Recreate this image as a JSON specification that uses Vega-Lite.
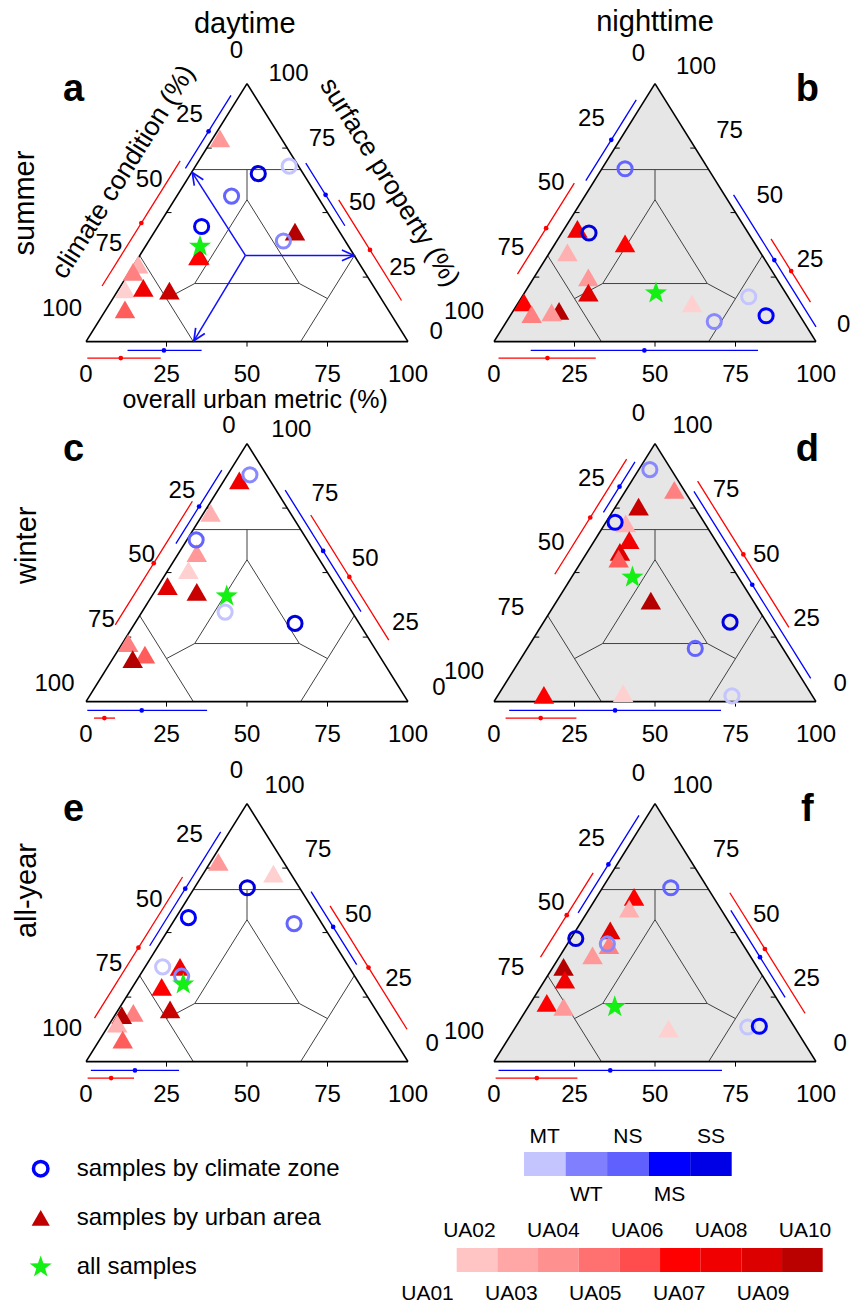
{
"$schema":"https://vega.github.io/schema/vega-lite/v6.json",
"padding":0,
"background":"white",
"spacing":0,
"config":{"view":{"stroke":null},"axis":{"disable":true},"font":"Liberation Sans","text":{"font":"Liberation Sans","color":"#000000"},
 "header":{"labels":false,"labelPadding":0,"titlePadding":0}},
"vconcat":[
{
"data":{"values":[
{"k":"bg","p":["b","d","f"],"x":0,"y":0},
{"k":"bg","p":["b","d","f"],"x":50,"y":100},
{"k":"bg","p":["b","d","f"],"x":100,"y":0},
{"k":"fr","p":["a","b","c","d","e","f"],"x":0,"y":0,"x2":100,"y2":0},
{"k":"fr","p":["a","b","c","d","e","f"],"x":0,"y":0,"x2":50,"y2":100},
{"k":"fr","p":["a","b","c","d","e","f"],"x":100,"y":0,"x2":50,"y2":100},
{"k":"gr","p":["a","b","c","d","e","f"],"x":33.33,"y":66.67,"x2":66.67,"y2":66.67},
{"k":"gr","p":["a","b","c","d","e","f"],"x":16.67,"y":33.33,"x2":33.33,"y2":0},
{"k":"gr","p":["a","b","c","d","e","f"],"x":66.67,"y":0,"x2":83.33,"y2":33.33},
{"k":"gr","p":["a","b","c","d","e","f"],"x":50,"y":55,"x2":33.75,"y2":22.5},
{"k":"gr","p":["a","b","c","d","e","f"],"x":33.75,"y":22.5,"x2":66.25,"y2":22.5},
{"k":"gr","p":["a","b","c","d","e","f"],"x":66.25,"y":22.5,"x2":50,"y2":55},
{"k":"gr","p":["a","b","c","d","e","f"],"x":50,"y":55,"x2":50,"y2":66.67},
{"k":"gr","p":["a","b","c","d","e","f"],"x":33.75,"y":22.5,"x2":25,"y2":16.67},
{"k":"gr","p":["a","b","c","d","e","f"],"x":66.25,"y":22.5,"x2":75,"y2":16.67},
{"k":"tk","p":["a","b","c","d","e","f"],"e":"b","x":25,"y":0},
{"k":"tk","p":["a","b","c","d","e","f"],"e":"b","x":50,"y":0},
{"k":"tk","p":["a","b","c","d","e","f"],"e":"b","x":75,"y":0},
{"k":"tk","p":["a","b","c","d","e","f"],"e":"l","x":37.5,"y":75},
{"k":"tk","p":["a","b","c","d","e","f"],"e":"l","x":25,"y":50},
{"k":"tk","p":["a","b","c","d","e","f"],"e":"l","x":12.5,"y":25},
{"k":"tk","p":["a","b","c","d","e","f"],"e":"r","x":87.5,"y":25},
{"k":"tk","p":["a","b","c","d","e","f"],"e":"r","x":75,"y":50},
{"k":"tk","p":["a","b","c","d","e","f"],"e":"r","x":62.5,"y":75},
{"k":"lb","p":["a","b","c","d","e","f"],"e":"b","t":"0","x":0,"y":0},
{"k":"lb","p":["a","b","c","d","e","f"],"e":"b","t":"25","x":25,"y":0},
{"k":"lb","p":["a","b","c","d","e","f"],"e":"b","t":"50","x":50,"y":0},
{"k":"lb","p":["a","b","c","d","e","f"],"e":"b","t":"75","x":75,"y":0},
{"k":"lb","p":["a","b","c","d","e","f"],"e":"b","t":"100","x":100,"y":0},
{"k":"lb","p":["a","b","c","d","e","f"],"e":"l","t":"0","x":50,"y":100},
{"k":"lb","p":["a","b","c","d","e","f"],"e":"l","t":"25","x":37.5,"y":75},
{"k":"lb","p":["a","b","c","d","e","f"],"e":"l","t":"50","x":25,"y":50},
{"k":"lb","p":["a","b","c","d","e","f"],"e":"l","t":"75","x":12.5,"y":25},
{"k":"lb","p":["a","b","c","d","e","f"],"e":"l","t":"100","x":0,"y":0},
{"k":"lb","p":["a","b","c","d","e","f"],"e":"r","t":"0","x":100,"y":0},
{"k":"lb","p":["a","b","c","d","e","f"],"e":"r","t":"25","x":87.5,"y":25},
{"k":"lb","p":["a","b","c","d","e","f"],"e":"r","t":"50","x":75,"y":50},
{"k":"lb","p":["a","b","c","d","e","f"],"e":"r","t":"75","x":62.5,"y":75},
{"k":"lb","p":["a","b","c","d","e","f"],"e":"r","t":"100","x":50,"y":100},
{"k":"ar","p":["a"],"d":"C","x":49.5,"y":33.4,"x2":33,"y2":65.5},
{"k":"ar","p":["a"],"d":"S","x":49.5,"y":33.4,"x2":83.2,"y2":33.4},
{"k":"ar","p":["a"],"d":"U","x":49.5,"y":33.4,"x2":33.5,"y2":0.3},
{"k":"eb","p":["a"],"e":"l","g":"b","x":32.8,"y":65.6,"x2":46.95,"y2":93.9,"xm":40,"ym":80},
{"k":"eb","p":["a"],"e":"l","g":"r","x":9.15,"y":18.3,"x2":33.4,"y2":66.8,"xm":21.35,"ym":42.7},
{"k":"eb","p":["a"],"e":"r","g":"b","x":78.35,"y":43.3,"x2":66.2,"y2":67.6,"xm":72.35,"ym":55.3},
{"k":"eb","p":["a"],"e":"r","g":"r","x":93.7,"y":12.6,"x2":74.2,"y2":51.6,"xm":83.9,"ym":32.2},
{"k":"eb","p":["a"],"e":"b","g":"b","x":12.9,"y":0,"x2":35.9,"y2":0,"xm":24.2,"ym":0},
{"k":"eb","p":["a"],"e":"b","g":"r","x":0.4,"y":0,"x2":23.2,"y2":0,"xm":10.8,"ym":0},
{"k":"eb","p":["b"],"e":"l","g":"b","x":30.45,"y":60.9,"x2":46.1,"y2":92.2,"xm":38.35,"ym":76.7},
{"k":"eb","p":["b"],"e":"l","g":"r","x":11.45,"y":22.9,"x2":29.1,"y2":58.2,"xm":20.35,"ym":40.7},
{"k":"eb","p":["b"],"e":"r","g":"b","x":97.95,"y":4.1,"x2":72.35,"y2":55.3,"xm":85,"ym":30},
{"k":"eb","p":["b"],"e":"r","g":"r","x":94,"y":12,"x2":81.75,"y2":36.5,"xm":88,"ym":24},
{"k":"eb","p":["b"],"e":"b","g":"b","x":11.4,"y":0,"x2":82,"y2":0,"xm":46.7,"ym":0},
{"k":"eb","p":["b"],"e":"b","g":"r","x":1.4,"y":0,"x2":31.6,"y2":0,"xm":16.6,"ym":0},
{"k":"eb","p":["c"],"e":"l","g":"b","x":29.85,"y":59.7,"x2":44.1,"y2":88.2,"xm":37.05,"ym":74.1},
{"k":"eb","p":["c"],"e":"l","g":"r","x":13.25,"y":26.5,"x2":37.2,"y2":74.4,"xm":25.2,"ym":50.4},
{"k":"eb","p":["c"],"e":"r","g":"b","x":83.35,"y":33.3,"x2":59.8,"y2":80.4,"xm":71.6,"ym":56.8},
{"k":"eb","p":["c"],"e":"r","g":"r","x":89.75,"y":20.5,"x2":65.5,"y2":69,"xm":77.5,"ym":45},
{"k":"eb","p":["c"],"e":"b","g":"b","x":0.4,"y":0,"x2":37.6,"y2":0,"xm":17.3,"ym":0},
{"k":"eb","p":["c"],"e":"b","g":"r","x":2.5,"y":0,"x2":9,"y2":0,"xm":5.7,"ym":0},
{"k":"eb","p":["d"],"e":"l","g":"b","x":35.9,"y":71.8,"x2":45.7,"y2":91.4,"xm":40.9,"ym":81.8},
{"k":"eb","p":["d"],"e":"l","g":"r","x":23.05,"y":46.1,"x2":45.35,"y2":90.7,"xm":34.05,"ym":68.1},
{"k":"eb","p":["d"],"e":"r","g":"b","x":96.3,"y":7.4,"x2":60.05,"y2":79.9,"xm":78.15,"ym":43.7},
{"k":"eb","p":["d"],"e":"r","g":"r","x":87.3,"y":25.4,"x2":58.95,"y2":82.1,"xm":73.15,"ym":53.7},
{"k":"eb","p":["d"],"e":"b","g":"b","x":4.7,"y":0,"x2":70.5,"y2":0,"xm":37.6,"ym":0},
{"k":"eb","p":["d"],"e":"b","g":"r","x":3.6,"y":0,"x2":25.6,"y2":0,"xm":14.5,"ym":0},
{"k":"eb","p":["e"],"e":"l","g":"b","x":21.7,"y":43.4,"x2":43.75,"y2":87.5,"xm":32.75,"ym":65.5},
{"k":"eb","p":["e"],"e":"l","g":"r","x":6.8,"y":13.6,"x2":34.15,"y2":68.3,"xm":20.45,"ym":40.9},
{"k":"eb","p":["e"],"e":"r","g":"b","x":82,"y":36,"x2":67.85,"y2":64.3,"xm":74.7,"ym":50.6},
{"k":"eb","p":["e"],"e":"r","g":"r","x":95.4,"y":9.2,"x2":71.5,"y2":57,"xm":83.45,"ym":33.1},
{"k":"eb","p":["e"],"e":"b","g":"b","x":1.5,"y":0,"x2":28.9,"y2":0,"xm":15.2,"ym":0},
{"k":"eb","p":["e"],"e":"b","g":"r","x":0.5,"y":0,"x2":14.9,"y2":0,"xm":7.8,"ym":0},
{"k":"eb","p":["f"],"e":"l","g":"b","x":28.05,"y":56.1,"x2":46.95,"y2":93.9,"xm":37.45,"ym":74.9},
{"k":"eb","p":["f"],"e":"l","g":"r","x":18.6,"y":37.2,"x2":34.95,"y2":69.9,"xm":26.75,"ym":53.5},
{"k":"eb","p":["f"],"e":"r","g":"b","x":88.35,"y":23.3,"x2":71.5,"y2":57,"xm":80.55,"ym":38.9},
{"k":"eb","p":["f"],"e":"r","g":"r","x":92.3,"y":15.4,"x2":68.95,"y2":62.1,"xm":79.85,"ym":40.3},
{"k":"eb","p":["f"],"e":"b","g":"b","x":1.4,"y":0,"x2":70.8,"y2":0,"xm":36.1,"ym":0},
{"k":"eb","p":["f"],"e":"b","g":"r","x":0.5,"y":0,"x2":25.9,"y2":0,"xm":13.3,"ym":0},
{"k":"ua","p":["a"],"c":"UA03","x":41.6,"y":78.8},
{"k":"ua","p":["a"],"c":"UA10","x":64.9,"y":42.6},
{"k":"ua","p":["a"],"c":"UA08","x":35.2,"y":33.2},
{"k":"ua","p":["a"],"c":"UA06","x":34.9,"y":33.0},
{"k":"ua","p":["a"],"c":"UA02","x":16.2,"y":29.8},
{"k":"ua","p":["a"],"c":"UA04","x":14.6,"y":27.0},
{"k":"ua","p":["a"],"c":"UA01","x":12.1,"y":20.2},
{"k":"ua","p":["a"],"c":"UA07","x":17.8,"y":20.8},
{"k":"ua","p":["a"],"c":"UA09","x":25.9,"y":19.8},
{"k":"ua","p":["a"],"c":"UA05","x":12.1,"y":12.5},
{"k":"ua","p":["b"],"c":"UA10","x":20.2,"y":11.9},
{"k":"ua","p":["b"],"c":"UA07","x":25.9,"y":43.7},
{"k":"ua","p":["b"],"c":"UA06","x":40.7,"y":38.1},
{"k":"ua","p":["b"],"c":"UA02","x":22.8,"y":34.6},
{"k":"ua","p":["b"],"c":"UA03","x":29.3,"y":24.9},
{"k":"ua","p":["b"],"c":"UA08","x":29.3,"y":19.0},
{"k":"ua","p":["b"],"c":"UA06","x":9.3,"y":15.2},
{"k":"ua","p":["b"],"c":"UA04","x":11.7,"y":10.6},
{"k":"ua","p":["b"],"c":"UA03","x":17.9,"y":11.3},
{"k":"ua","p":["b"],"c":"UA01","x":61.5,"y":14.8},
{"k":"ua","p":["c"],"c":"UA07","x":47.6,"y":85.7},
{"k":"ua","p":["c"],"c":"UA02","x":38.7,"y":73.1},
{"k":"ua","p":["c"],"c":"UA03","x":34.4,"y":57.5},
{"k":"ua","p":["c"],"c":"UA01","x":31.8,"y":51.0},
{"k":"ua","p":["c"],"c":"UA08","x":25.3,"y":44.8},
{"k":"ua","p":["c"],"c":"UA09","x":34.4,"y":42.5},
{"k":"ua","p":["c"],"c":"UA04","x":13.1,"y":22.7},
{"k":"ua","p":["c"],"c":"UA05","x":18.3,"y":18.2},
{"k":"ua","p":["c"],"c":"UA10","x":14.5,"y":16.5},
{"k":"ua","p":["d"],"c":"UA04","x":56,"y":82.1},
{"k":"ua","p":["d"],"c":"UA09","x":44.9,"y":75.6},
{"k":"ua","p":["d"],"c":"UA02","x":40.9,"y":69.1},
{"k":"ua","p":["d"],"c":"UA07","x":42.0,"y":62.6},
{"k":"ua","p":["d"],"c":"UA08","x":39.1,"y":58.0},
{"k":"ua","p":["d"],"c":"UA05","x":38.7,"y":55.4},
{"k":"ua","p":["d"],"c":"UA10","x":48.7,"y":39.1},
{"k":"ua","p":["d"],"c":"UA06","x":15.5,"y":2.6},
{"k":"ua","p":["d"],"c":"UA01","x":40.1,"y":3.3},
{"k":"ua","p":["e"],"c":"UA03","x":41.1,"y":77.4},
{"k":"ua","p":["e"],"c":"UA01","x":58.2,"y":72.9},
{"k":"ua","p":["e"],"c":"UA07","x":29.2,"y":36.7},
{"k":"ua","p":["e"],"c":"UA06","x":23.5,"y":29.0},
{"k":"ua","p":["e"],"c":"UA09","x":26.1,"y":20.2},
{"k":"ua","p":["e"],"c":"UA04","x":14.7,"y":18.9},
{"k":"ua","p":["e"],"c":"UA10","x":11.1,"y":18.0},
{"k":"ua","p":["e"],"c":"UA02","x":9.7,"y":14.7},
{"k":"ua","p":["e"],"c":"UA05","x":11.4,"y":8.5},
{"k":"ua","p":["f"],"c":"UA06","x":43.5,"y":63.8},
{"k":"ua","p":["f"],"c":"UA02","x":42.0,"y":59.3},
{"k":"ua","p":["f"],"c":"UA08","x":36.1,"y":50.9},
{"k":"ua","p":["f"],"c":"UA04","x":35.7,"y":45.1},
{"k":"ua","p":["f"],"c":"UA03","x":30.6,"y":41.2},
{"k":"ua","p":["f"],"c":"UA10","x":21.6,"y":36.7},
{"k":"ua","p":["f"],"c":"UA07","x":22.0,"y":31.8},
{"k":"ua","p":["f"],"c":"UA06","x":16.4,"y":22.8},
{"k":"ua","p":["f"],"c":"UA03","x":21.6,"y":21.2},
{"k":"ua","p":["f"],"c":"UA01","x":54.2,"y":12.8},
{"k":"cz","p":["a"],"c":"SS","x":53.5,"y":65.1},
{"k":"cz","p":["a"],"c":"MT","x":63.1,"y":68.0},
{"k":"cz","p":["a"],"c":"NS","x":45.2,"y":56.4},
{"k":"cz","p":["a"],"c":"MS","x":35.9,"y":44.6},
{"k":"cz","p":["a"],"c":"WT","x":61.3,"y":39.0},
{"k":"cz","p":["b"],"c":"NS","x":40.7,"y":67.0},
{"k":"cz","p":["b"],"c":"SS","x":29.5,"y":42.1},
{"k":"cz","p":["b"],"c":"MT","x":79.1,"y":17.4},
{"k":"cz","p":["b"],"c":"WT","x":68.4,"y":7.8},
{"k":"cz","p":["b"],"c":"MS","x":84.5,"y":10.0},
{"k":"cz","p":["c"],"c":"WT","x":50.9,"y":87.9},
{"k":"cz","p":["c"],"c":"NS","x":34.2,"y":62.7},
{"k":"cz","p":["c"],"c":"MT","x":43.2,"y":34.7},
{"k":"cz","p":["c"],"c":"SS","x":64.9,"y":30.3},
{"k":"cz","p":["d"],"c":"WT","x":48.4,"y":89.9},
{"k":"cz","p":["d"],"c":"MS","x":37.6,"y":69.5},
{"k":"cz","p":["d"],"c":"SS","x":73.3,"y":30.8},
{"k":"cz","p":["d"],"c":"NS","x":62.5,"y":20.6},
{"k":"cz","p":["d"],"c":"MT","x":73.9,"y":2.2},
{"k":"cz","p":["e"],"c":"SS","x":50.1,"y":67.4},
{"k":"cz","p":["e"],"c":"MS","x":31.8,"y":55.8},
{"k":"cz","p":["e"],"c":"NS","x":64.6,"y":53.5},
{"k":"cz","p":["e"],"c":"MT","x":23.8,"y":36.7},
{"k":"cz","p":["e"],"c":"WT","x":29.7,"y":33.1},
{"k":"cz","p":["f"],"c":"NS","x":54.9,"y":67.4},
{"k":"cz","p":["f"],"c":"SS","x":25.4,"y":47.7},
{"k":"cz","p":["f"],"c":"WT","x":35.2,"y":45.6},
{"k":"cz","p":["f"],"c":"MT","x":78.8,"y":13.4},
{"k":"cz","p":["f"],"c":"MS","x":82.4,"y":13.7},
{"k":"all","p":["a"],"x":35.4,"y":36.9},
{"k":"all","p":["b"],"x":50.3,"y":18.8},
{"k":"all","p":["c"],"x":43.7,"y":40.9},
{"k":"all","p":["d"],"x":43.0,"y":48.2},
{"k":"all","p":["e"],"x":30.2,"y":30.0},
{"k":"all","p":["f"],"x":37.5,"y":21.2}
]},
"transform":[
 {"flatten":["p"]},
 {"lookup":"p","from":{"data":{"values":[{"p":"a","r":1,"cc":1},{"p":"b","r":1,"cc":2},{"p":"c","r":2,"cc":1},{"p":"d","r":2,"cc":2},{"p":"e","r":3,"cc":1},{"p":"f","r":3,"cc":2}]},"key":"p","fields":["r","cc"]}}
],
"facet":{
 "row":{"field":"r","type":"ordinal","header":{"labels":false,"title":null}},
 "column":{"field":"cc","type":"ordinal","header":{"labels":false,"title":null}}
},
"spacing":0,
"bounds":"flush",
"spec":{
"width":407.3,
"height":359.5,
"encoding":{
"x":{"field":"x","type":"quantitative","scale":{"domain":[-26.71,99.78],"nice":false,"zero":false}},
"y":{"field":"y","type":"quantitative","scale":{"domain":[-6.94,132.4],"nice":false,"zero":false}}
},
"layer":[
{"transform":[{"filter":"datum.k=='bg'"}],"mark":{"type":"area","color":"#e6e6e6"},"encoding":{"y2":{"datum":0}}},
{"transform":[{"filter":"datum.k=='gr'"}],"mark":{"type":"rule","color":"#404040","strokeWidth":1},"encoding":{"x2":{"field":"x2"},"y2":{"field":"y2"}}},
{"transform":[{"filter":"datum.k=='fr'"}],"mark":{"type":"rule","color":"#000000","strokeWidth":1.6},"encoding":{"x2":{"field":"x2"},"y2":{"field":"y2"}}},
{"transform":[{"filter":"datum.k=='ar'"}],"mark":{"type":"rule","color":"#1010ff","strokeWidth":1.5},"encoding":{"x2":{"field":"x2"},"y2":{"field":"y2"}}},
{"transform":[{"filter":"datum.k=='ar' && datum.d=='S'"}],"mark":{"type":"point","shape":"M-0.45,1L0,0L0.45,1","size":576,"angle":90,"filled":false,"color":"#1010ff","strokeWidth":1.7,"opacity":1},"encoding":{"x":{"field":"x2","type":"quantitative"},"y":{"field":"y2","type":"quantitative"}}},
{"transform":[{"filter":"datum.k=='ar' && datum.d=='U'"}],"mark":{"type":"point","shape":"M-0.45,1L0,0L0.45,1","size":576,"angle":212,"filled":false,"color":"#1010ff","strokeWidth":1.7,"opacity":1},"encoding":{"x":{"field":"x2","type":"quantitative"},"y":{"field":"y2","type":"quantitative"}}},
{"transform":[{"filter":"datum.k=='ar' && datum.d=='C'"}],"mark":{"type":"point","shape":"M-0.45,1L0,0L0.45,1","size":576,"angle":327,"filled":false,"color":"#1010ff","strokeWidth":1.7,"opacity":1},"encoding":{"x":{"field":"x2","type":"quantitative"},"y":{"field":"y2","type":"quantitative"}}},
{"transform":[{"filter":"datum.k=='tk' && datum.e=='b'"}],"mark":{"type":"point","shape":"M0,0L0,1","size":100,"filled":false,"color":"#000000","strokeWidth":1,"opacity":1}},
{"transform":[{"filter":"datum.k=='tk' && datum.e=='l'"}],"mark":{"type":"point","shape":"M0,0L1,0","size":100,"filled":false,"color":"#000000","strokeWidth":1,"opacity":1}},
{"transform":[{"filter":"datum.k=='tk' && datum.e=='r'"}],"mark":{"type":"point","shape":"M0,0L-1,0","size":100,"filled":false,"color":"#000000","strokeWidth":1,"opacity":1}},
{"transform":[{"filter":"datum.k=='eb' && datum.e=='l' && datum.g=='b'"}],"layer":[
 {"mark":{"type":"rule","color":"#0000ff","strokeWidth":1.3,"xOffset":-6.2,"yOffset":-3.9,"x2Offset":-6.2,"y2Offset":-3.9},"encoding":{"x2":{"field":"x2"},"y2":{"field":"y2"}}},
 {"mark":{"type":"point","filled":true,"color":"#0000ff","size":22,"opacity":1,"xOffset":-6.2,"yOffset":-3.9},"encoding":{"x":{"field":"xm","type":"quantitative"},"y":{"field":"ym","type":"quantitative"}}}]},
{"transform":[{"filter":"datum.k=='eb' && datum.e=='l' && datum.g=='r'"}],"layer":[
 {"mark":{"type":"rule","color":"#ff0000","strokeWidth":1.3,"xOffset":-13.4,"yOffset":-8.4,"x2Offset":-13.4,"y2Offset":-8.4},"encoding":{"x2":{"field":"x2"},"y2":{"field":"y2"}}},
 {"mark":{"type":"point","filled":true,"color":"#ff0000","size":22,"opacity":1,"xOffset":-13.4,"yOffset":-8.4},"encoding":{"x":{"field":"xm","type":"quantitative"},"y":{"field":"ym","type":"quantitative"}}}]},
{"transform":[{"filter":"datum.k=='eb' && datum.e=='r' && datum.g=='b'"}],"layer":[
 {"mark":{"type":"rule","color":"#0000ff","strokeWidth":1.3,"xOffset":6.6,"yOffset":-4.1,"x2Offset":6.6,"y2Offset":-4.1},"encoding":{"x2":{"field":"x2"},"y2":{"field":"y2"}}},
 {"mark":{"type":"point","filled":true,"color":"#0000ff","size":22,"opacity":1,"xOffset":6.6,"yOffset":-4.1},"encoding":{"x":{"field":"xm","type":"quantitative"},"y":{"field":"ym","type":"quantitative"}}}]},
{"transform":[{"filter":"datum.k=='eb' && datum.e=='r' && datum.g=='r'"}],"layer":[
 {"mark":{"type":"rule","color":"#ff0000","strokeWidth":1.3,"xOffset":13.8,"yOffset":-8.6,"x2Offset":13.8,"y2Offset":-8.6},"encoding":{"x2":{"field":"x2"},"y2":{"field":"y2"}}},
 {"mark":{"type":"point","filled":true,"color":"#ff0000","size":22,"opacity":1,"xOffset":13.8,"yOffset":-8.6},"encoding":{"x":{"field":"xm","type":"quantitative"},"y":{"field":"ym","type":"quantitative"}}}]},
{"transform":[{"filter":"datum.k=='eb' && datum.e=='b' && datum.g=='b'"}],"layer":[
 {"mark":{"type":"rule","color":"#0000ff","strokeWidth":1.3,"yOffset":8.8,"y2Offset":8.8},"encoding":{"x2":{"field":"x2"},"y2":{"field":"y2"}}},
 {"mark":{"type":"point","filled":true,"color":"#0000ff","size":22,"opacity":1,"yOffset":8.8},"encoding":{"x":{"field":"xm","type":"quantitative"},"y":{"field":"ym","type":"quantitative"}}}]},
{"transform":[{"filter":"datum.k=='eb' && datum.e=='b' && datum.g=='r'"}],"layer":[
 {"mark":{"type":"rule","color":"#ff0000","strokeWidth":1.3,"yOffset":16.5,"y2Offset":16.5},"encoding":{"x2":{"field":"x2"},"y2":{"field":"y2"}}},
 {"mark":{"type":"point","filled":true,"color":"#ff0000","size":22,"opacity":1,"yOffset":16.5},"encoding":{"x":{"field":"xm","type":"quantitative"},"y":{"field":"ym","type":"quantitative"}}}]},
{"transform":[{"filter":"datum.k=='ua'"}],"mark":{"type":"point","shape":"triangle-up","filled":true,"size":420,"opacity":1,"strokeWidth":0},"encoding":{"fill":{"field":"c","type":"nominal","scale":{"domain":["UA01","UA02","UA03","UA04","UA05","UA06","UA07","UA08","UA09","UA10"],"range":["#ffd0d0","#ffb0b0","#ff9898","#ff8080","#ff5c5c","#ff0000","#f00000","#e00000","#c80000","#b40000"]},"legend":null}}},
{"transform":[{"filter":"datum.k=='cz'"}],"mark":{"type":"point","shape":"circle","filled":false,"size":200,"strokeWidth":3,"opacity":1},"encoding":{"stroke":{"field":"c","type":"nominal","scale":{"domain":["MT","WT","NS","MS","SS"],"range":["#c4c4ff","#8888ff","#6464ff","#0000ff","#0000dd"]},"legend":null}}},
{"transform":[{"filter":"datum.k=='all'"}],"mark":{"type":"point","shape":"M0,-1L0.235,-0.324L0.951,-0.309L0.38,0.124L0.588,0.809L0,0.4L-0.588,0.809L-0.38,0.124L-0.951,-0.309L-0.235,-0.324Z","filled":true,"color":"#14f014","size":540,"opacity":1,"strokeWidth":0}},
{"transform":[{"filter":"datum.k=='lb' && datum.e=='b'"}],"mark":{"type":"text","fontSize":24,"align":"center","baseline":"middle","dy":33.5},"encoding":{"text":{"field":"t"}}},
{"transform":[{"filter":"datum.k=='lb' && datum.e=='l' && (datum.p=='a' || datum.p=='e')"}],"mark":{"type":"text","fontSize":24,"align":"right","baseline":"middle","dx":-4,"dy":-33},"encoding":{"text":{"field":"t"}}},
{"transform":[{"filter":"datum.k=='lb' && datum.e=='l' && (datum.p=='b' || datum.p=='d' || datum.p=='f')"}],"mark":{"type":"text","fontSize":24,"align":"right","baseline":"middle","dx":-10,"dy":-29.5},"encoding":{"text":{"field":"t"}}},
{"transform":[{"filter":"datum.k=='lb' && datum.e=='l' && datum.p=='c'"}],"mark":{"type":"text","fontSize":24,"align":"right","baseline":"middle","dx":-11.5,"dy":-17.5},"encoding":{"text":{"field":"t"}}},
{"transform":[{"filter":"datum.k=='lb' && datum.e=='r' && datum.p=='a'"}],"mark":{"type":"text","fontSize":24,"align":"left","baseline":"middle","dx":21.5,"dy":-9.5},"encoding":{"text":{"field":"t"}}},
{"transform":[{"filter":"datum.k=='lb' && datum.e=='r' && datum.p=='b'"}],"mark":{"type":"text","fontSize":24,"align":"left","baseline":"middle","dx":21,"dy":-16.8},"encoding":{"text":{"field":"t"}}},
{"transform":[{"filter":"datum.k=='lb' && datum.e=='r' && datum.p=='c'"}],"mark":{"type":"text","fontSize":24,"align":"left","baseline":"middle","dx":24.3,"dy":-14},"encoding":{"text":{"field":"t"}}},
{"transform":[{"filter":"datum.k=='lb' && datum.e=='r' && (datum.p=='d' || datum.p=='e' || datum.p=='f')"}],"mark":{"type":"text","fontSize":24,"align":"left","baseline":"middle","dx":17.5,"dy":-17.7},"encoding":{"text":{"field":"t"}}},
{"transform":[{"filter":"datum.k=='fr' && datum.y2==0 && (datum.p=='a' || datum.p=='c' || datum.p=='e')"}],"mark":{"type":"text","fontSize":38,"fontWeight":"bold","align":"center","baseline":"alphabetic"},"encoding":{"x":{"datum":-3.9},"y":{"datum":93.2},"text":{"field":"p"}}},
{"transform":[{"filter":"datum.k=='fr' && datum.y2==0 && (datum.p=='b' || datum.p=='d' || datum.p=='f')"}],"mark":{"type":"text","fontSize":38,"fontWeight":"bold","align":"center","baseline":"alphabetic"},"encoding":{"x":{"datum":97.3},"y":{"datum":93.2},"text":{"field":"p"}}},
{"transform":[{"filter":"datum.k=='fr' && datum.y2==0 && datum.p=='a'"}],"mark":{"type":"text","fontSize":29,"align":"center","baseline":"alphabetic"},"encoding":{"x":{"datum":49.3},"y":{"datum":119.7},"text":{"value":"daytime"}}},
{"transform":[{"filter":"datum.k=='fr' && datum.y2==0 && datum.p=='b'"}],"mark":{"type":"text","fontSize":29,"align":"center","baseline":"alphabetic"},"encoding":{"x":{"datum":50},"y":{"datum":120.2},"text":{"value":"nighttime"}}},
{"transform":[{"filter":"datum.k=='fr' && datum.y2==0 && datum.p=='a'"}],"mark":{"type":"text","fontSize":29,"angle":270,"align":"center","baseline":"middle"},"encoding":{"x":{"datum":-18.9},"y":{"datum":53.7},"text":{"value":"summer"}}},
{"transform":[{"filter":"datum.k=='fr' && datum.y2==0 && datum.p=='c'"}],"mark":{"type":"text","fontSize":29,"angle":270,"align":"center","baseline":"middle"},"encoding":{"x":{"datum":-18.4},"y":{"datum":60.6},"text":{"value":"winter"}}},
{"transform":[{"filter":"datum.k=='fr' && datum.y2==0 && datum.p=='e'"}],"mark":{"type":"text","fontSize":29,"angle":270,"align":"center","baseline":"middle"},"encoding":{"x":{"datum":-18.4},"y":{"datum":66.3},"text":{"value":"all-year"}}},
{"transform":[{"filter":"datum.k=='fr' && datum.y2==0 && datum.p=='a'"}],"mark":{"type":"text","fontSize":26.5,"angle":302,"align":"center","baseline":"middle"},"encoding":{"x":{"datum":11.6},"y":{"datum":65.7},"text":{"value":"climate condition (%)"}}},
{"transform":[{"filter":"datum.k=='fr' && datum.y2==0 && datum.p=='a'"}],"mark":{"type":"text","fontSize":26.5,"angle":58,"align":"center","baseline":"middle"},"encoding":{"x":{"datum":94.3},"y":{"datum":61.7},"text":{"value":"surface property (%)"}}},
{"transform":[{"filter":"datum.k=='fr' && datum.y2==0 && datum.p=='a'"}],"mark":{"type":"text","fontSize":25,"align":"center","baseline":"middle"},"encoding":{"x":{"datum":52.5},"y":{"datum":-22.8},"text":{"value":"overall urban metric (%)"}}}
]
}
},
{
"width":851,
"height":196.4,
"resolve":{"scale":{"x":"independent","y":"independent","fill":"independent"}},
"layer":[
{"data":{"values":[{"i":"samples by climate zone"}]},"mark":{"type":"point","shape":"circle","filled":false,"color":"#0000ff","strokeWidth":3.5,"size":210,"opacity":1},
 "encoding":{"x":{"datum":"s","type":"nominal","scale":{"type":"point","domain":["s","t"],"range":[40.7,76.7],"padding":0}},"y":{"field":"i","type":"nominal","scale":{"type":"point","domain":["samples by climate zone","samples by urban area","all samples"],"range":[60.7,159.1],"padding":0}}}},
{"data":{"values":[{"i":"samples by urban area"}]},"mark":{"type":"point","shape":"triangle-up","filled":true,"color":"#c00000","size":330,"opacity":1},
 "encoding":{"x":{"datum":"s","type":"nominal","scale":{"type":"point","domain":["s","t"],"range":[40.7,76.7],"padding":0}},"y":{"field":"i","type":"nominal","scale":{"type":"point","domain":["samples by climate zone","samples by urban area","all samples"],"range":[60.7,159.1],"padding":0}}}},
{"data":{"values":[{"i":"all samples"}]},"mark":{"type":"point","shape":"M0,-1L0.235,-0.324L0.951,-0.309L0.38,0.124L0.588,0.809L0,0.4L-0.588,0.809L-0.38,0.124L-0.951,-0.309L-0.235,-0.324Z","filled":true,"color":"#14f014","size":540,"opacity":1,"strokeWidth":0},
 "encoding":{"x":{"datum":"s","type":"nominal","scale":{"type":"point","domain":["s","t"],"range":[40.7,76.7],"padding":0}},"y":{"field":"i","type":"nominal","scale":{"type":"point","domain":["samples by climate zone","samples by urban area","all samples"],"range":[60.7,159.1],"padding":0}}}},
{"data":{"values":[{"i":"samples by climate zone"},{"i":"samples by urban area"},{"i":"all samples"}]},"mark":{"type":"text","fontSize":24,"align":"left","baseline":"middle"},
 "encoding":{"x":{"datum":"t","type":"nominal","scale":{"type":"point","domain":["s","t"],"range":[40.7,76.7],"padding":0}},"y":{"field":"i","type":"nominal","scale":{"type":"point","domain":["samples by climate zone","samples by urban area","all samples"],"range":[60.7,159.1],"padding":0}},"text":{"field":"i"}}},
{"data":{"values":[{"z":"MT"},{"z":"WT"},{"z":"NS"},{"z":"MS"},{"z":"SS"}]},"mark":{"type":"rect"},
 "encoding":{"x":{"field":"z","type":"nominal","scale":{"type":"band","domain":["MT","WT","NS","MS","SS"],"range":[524,731.7],"paddingInner":0,"paddingOuter":0}},
  "y":{"datum":"blue","type":"nominal","scale":{"type":"band","domain":["blue","red"],"range":[44.1,164.1],"paddingInner":0.75,"paddingOuter":0}},
  "fill":{"field":"z","type":"nominal","scale":{"domain":["MT","WT","NS","MS","SS"],"range":["#c4c4ff","#8080ff","#6060ff","#0000ff","#0000e6"]},"legend":null}}},
{"data":{"values":[{"z":"MT"},{"z":"NS"},{"z":"SS"}]},"mark":{"type":"text","fontSize":21,"align":"center","baseline":"middle","dy":-27},
 "encoding":{"x":{"field":"z","type":"nominal","scale":{"type":"band","domain":["MT","WT","NS","MS","SS"],"range":[524,731.7],"paddingInner":0,"paddingOuter":0}},
  "y":{"datum":"blue","type":"nominal","scale":{"type":"band","domain":["blue","red"],"range":[44.1,164.1],"paddingInner":0.75,"paddingOuter":0}},"text":{"field":"z"}}},
{"data":{"values":[{"z":"WT"},{"z":"MS"}]},"mark":{"type":"text","fontSize":21,"align":"center","baseline":"middle","dy":31.3},
 "encoding":{"x":{"field":"z","type":"nominal","scale":{"type":"band","domain":["MT","WT","NS","MS","SS"],"range":[524,731.7],"paddingInner":0,"paddingOuter":0}},
  "y":{"datum":"blue","type":"nominal","scale":{"type":"band","domain":["blue","red"],"range":[44.1,164.1],"paddingInner":0.75,"paddingOuter":0}},"text":{"field":"z"}}},
{"data":{"values":[{"n":1},{"n":2},{"n":3},{"n":4},{"n":5},{"n":6},{"n":7},{"n":8},{"n":9}]},"mark":{"type":"rect"},
 "encoding":{"x":{"field":"n","type":"ordinal","scale":{"type":"band","domain":[1,2,3,4,5,6,7,8,9],"range":[456.7,822.7],"paddingInner":0,"paddingOuter":0}},
  "y":{"datum":"red","type":"nominal","scale":{"type":"band","domain":["blue","red"],"range":[44.1,164.1],"paddingInner":0.75,"paddingOuter":0}},
  "fill":{"field":"n","type":"ordinal","scale":{"domain":[1,2,3,4,5,6,7,8,9],"range":["#ffc4c4","#ffa6a6","#ff9090","#ff7070","#ff4c4c","#ff0000","#f00000","#dc0000","#bb0000"]},"legend":null}}},
{"data":{"values":[{"u":"UA02"},{"u":"UA04"},{"u":"UA06"},{"u":"UA08"},{"u":"UA10"}]},"mark":{"type":"text","fontSize":21,"align":"center","baseline":"middle","dy":-28.7},
 "encoding":{"x":{"field":"u","type":"ordinal","scale":{"type":"point","domain":["UA01","UA02","UA03","UA04","UA05","UA06","UA07","UA08","UA09","UA10"],"range":[427.5,805],"padding":0}},
  "y":{"datum":"red","type":"nominal","scale":{"type":"band","domain":["blue","red"],"range":[44.1,164.1],"paddingInner":0.75,"paddingOuter":0}},"text":{"field":"u"}}},
{"data":{"values":[{"u":"UA01"},{"u":"UA03"},{"u":"UA05"},{"u":"UA07"},{"u":"UA09"}]},"mark":{"type":"text","fontSize":21,"align":"center","baseline":"middle","dy":33.6},
 "encoding":{"x":{"field":"u","type":"ordinal","scale":{"type":"point","domain":["UA01","UA02","UA03","UA04","UA05","UA06","UA07","UA08","UA09","UA10"],"range":[427.5,805],"padding":0}},
  "y":{"datum":"red","type":"nominal","scale":{"type":"band","domain":["blue","red"],"range":[44.1,164.1],"paddingInner":0.75,"paddingOuter":0}},"text":{"field":"u"}}}
]
}
]
}
